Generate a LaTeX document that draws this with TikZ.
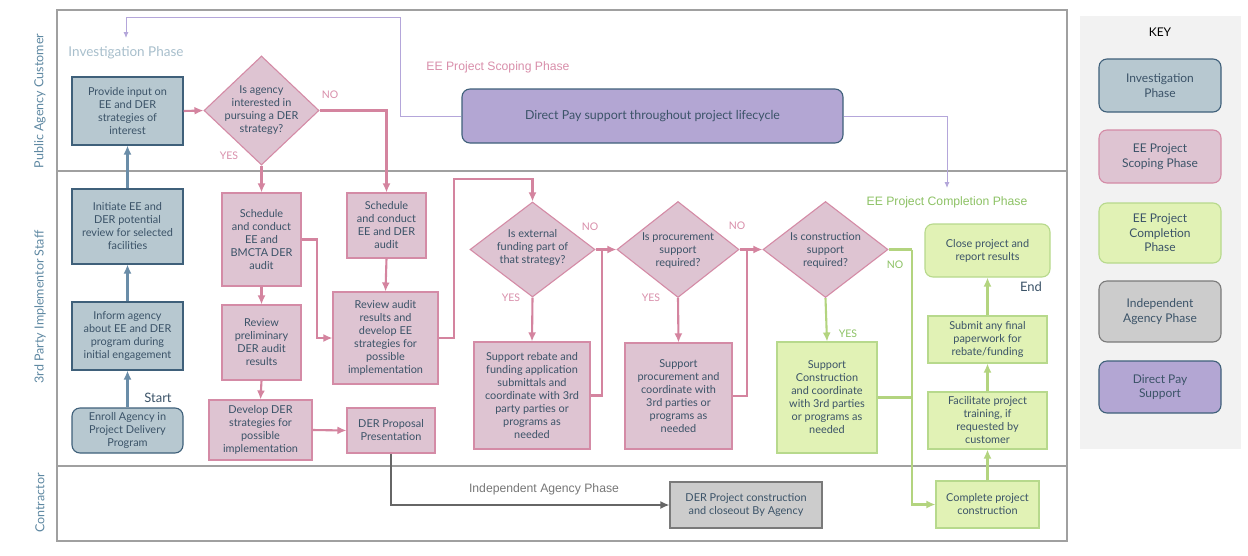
\documentclass[tikz,border=0pt]{standalone}
\usepackage{fontspec}
\setmainfont{Lato}
\newfontfamily\arialf{Liberation Sans}
\usetikzlibrary{shapes.geometric,arrows.meta,calc}
\definecolor{txt}{HTML}{3B5368}
\definecolor{invf}{HTML}{B7C8D0}
\definecolor{invd}{HTML}{3F607A}
\definecolor{scpf}{HTML}{DEC4D2}
\definecolor{scpd}{HTML}{D48BA6}
\definecolor{cmpf}{HTML}{E1F2B5}
\definecolor{cmpd}{HTML}{B7D98C}
\definecolor{indf}{HTML}{CCCCCC}
\definecolor{indd}{HTML}{7A7A7A}
\definecolor{dpf}{HTML}{B3A6D3}
\definecolor{dpd}{HTML}{3F607A}
\definecolor{pinkln}{HTML}{D4849F}
\definecolor{blueln}{HTML}{6A8DA8}
\definecolor{greenln}{HTML}{B3D47F}
\definecolor{grayln}{HTML}{666666}
\definecolor{purpln}{HTML}{B4A6DA}
\definecolor{lanec}{HTML}{5E88A2}
\definecolor{framec}{HTML}{A0A0A0}
\definecolor{keybg}{HTML}{F2F2F2}
\definecolor{invtxt}{HTML}{A8BFCC}
\definecolor{scptxt}{HTML}{D98FAB}
\definecolor{cmptxt}{HTML}{8DC265}
\definecolor{indtxt}{HTML}{777777}
\tikzset{
  box/.style={draw, line width=1.1pt, align=center, text=txt, inner sep=1pt,
    font=\fontsize{10.9}{13}\selectfont},
  inv/.style={box, fill=invf, draw=invd},
  scp/.style={box, fill=scpf, draw=scpd},
  cmp/.style={box, fill=cmpf, draw=cmpd},
  ind/.style={box, fill=indf, draw=indd},
  dps/.style={box, fill=dpf, draw=dpd, rounded corners=8pt},
  keybox/.style={box, rounded corners=8pt, minimum width=122, font=\fontsize{12}{14.6}\selectfont},
  dia/.style={diamond, draw=scpd, fill=scpf, line width=1.1pt, inner sep=0pt},
  dtext/.style={align=center, text=txt, inner sep=0pt, font=\fontsize{10.9}{13}\selectfont},
  parr/.style={draw=pinkln, line width=2.1pt, -{Latex[length=9pt,width=8pt]}},
  pln/.style={draw=pinkln, line width=2.1pt},
  barr/.style={draw=blueln, line width=2.1pt, -{Latex[length=9pt,width=8pt]}},
  garr/.style={draw=greenln, line width=2.1pt, -{Latex[length=9pt,width=8pt]}},
  gln/.style={draw=greenln, line width=2.1pt},
  karr/.style={draw=grayln, line width=2.1pt, -{Latex[length=9pt,width=8pt]}},
  uarr/.style={draw=purpln, line width=0.9pt, -{Latex[length=6pt,width=5pt]}},
  yn/.style={font=\fontsize{10.5}{12}\selectfont, inner sep=0pt},
  lanelbl/.style={rotate=90, text=lanec, font=\fontsize{12.5}{14}\selectfont},
}
\begin{document}
\begin{tikzpicture}[x=1pt,y=-1pt]
\useasboundingbox (0,0) rectangle (1248,555);
\fill[white] (0,0) rectangle (1248,555);
% key panel
\fill[keybg] (1080,16) rectangle (1241,449);
\node[font=\fontsize{12}{14}\selectfont] (keyt) at (1160,32) {KEY};
\node[keybox, fill=invf, draw=invd, minimum height=53] (k1) at (1160,85.5) {Investigation\\Phase};
\node[keybox, fill=scpf, draw=scpd, minimum height=53] (k2) at (1160,156.5) {EE Project\\Scoping Phase};
\node[keybox, fill=cmpf, draw=cmpd, minimum height=60] (k3) at (1160,233) {EE Project\\Completion\\Phase};
\node[keybox, fill=indf, draw=indd, minimum height=61] (k4) at (1160,311.5) {Independent\\Agency Phase};
\node[keybox, fill=dpf, draw=dpd, minimum height=52] (k5) at (1160,387) {Direct Pay\\Support};
% swimlanes
\draw[framec, line width=1.6pt] (57,10) rectangle (1067,541);
\draw[framec, line width=1.8pt] (57,171) -- (1067,171);
\draw[framec, line width=1.8pt] (57,466) -- (1067,466);
\node[lanelbl] (l1) at (40,101) {Public Agency Customer};
\node[lanelbl] (l2) at (40,307) {3rd Party Implementor Staff};
\node[lanelbl] (l3) at (40,503) {Contractor};
% phase labels
\node[text=invtxt, font=\fontsize{13.5}{15}\selectfont] (ph1) at (126,53) {Investigation Phase};
\node[text=scptxt, font=\arialf\fontsize{12.2}{14}\selectfont] (ph2) at (498,67) {EE Project Scoping Phase};
\node[text=cmptxt, font=\arialf\fontsize{12.2}{14}\selectfont] (ph3) at (947,202) {EE Project Completion Phase};
\node[text=indtxt, font=\arialf\fontsize{12.2}{14}\selectfont] (ph4) at (544,489) {Independent Agency Phase};
% investigation nodes
\node[inv, minimum width=111, minimum height=68] (provide) at (127.5,111) {Provide input on\\EE and DER\\strategies of\\interest};
\node[inv, minimum width=111, minimum height=75] (initiate) at (127.5,226.5) {Initiate EE and\\DER potential\\review for selected\\facilities};
\node[inv, minimum width=111, minimum height=68] (inform) at (127.5,336) {Inform agency\\about EE and DER\\program during\\initial engagement};
\node[inv, rounded corners=8pt, minimum width=111, minimum height=45] (enroll) at (127.5,430.5) {Enroll Agency in\\Project Delivery\\Program};
\node[text=txt, font=\fontsize{13}{15}\selectfont] (start) at (158,398) {Start};
% direct pay
\node[dps, minimum width=381, minimum height=54, font=\fontsize{12.4}{14}\selectfont] (dp) at (652.5,116) {Direct Pay support throughout project lifecycle};
% diamond 1
\node[dia, minimum width=115, minimum height=109] (d1) at (261.5,110.5) {};
\node[dtext] (d1t) at (261.5,110.5) {Is agency\\interested in\\pursuing a DER\\strategy?};
% scoping nodes
\node[scp, minimum width=79, minimum height=93] (sched1) at (261.5,239.5) {Schedule\\and conduct\\EE and\\BMCTA DER\\audit};
\node[scp, minimum width=79, minimum height=75] (review1) at (261.5,342.5) {Review\\preliminary\\DER audit\\results};
\node[scp, minimum width=103, minimum height=60] (develop) at (260.5,430) {Develop DER\\strategies for\\possible\\implementation};
\node[scp, minimum width=79, minimum height=65] (sched2) at (386.5,225.5) {Schedule\\and conduct\\EE and DER\\audit};
\node[scp, minimum width=105, minimum height=92] (review2) at (385.5,338) {Review audit\\results and\\develop EE\\strategies for\\possible\\implementation};
\node[scp, minimum width=88, minimum height=45] (proposal) at (391,430.5) {DER Proposal\\Presentation};
\node[dia, minimum width=125, minimum height=95] (d2) at (532.5,249.5) {};
\node[dtext] (d2t) at (532.5,247.5) {Is external\\funding part of\\that strategy?};
\node[scp, minimum width=116, minimum height=107] (s1) at (532,395.5) {Support rebate and\\funding application\\submittals and\\coordinate with 3rd\\party parties or\\programs as\\needed};
\node[dia, minimum width=122, minimum height=96] (d3) at (678,249.5) {};
\node[dtext] (d3t) at (678,250.5) {Is procurement\\support\\required?};
\node[scp, minimum width=107, minimum height=106] (s2) at (678.5,396) {Support\\procurement and\\coordinate with\\3rd parties or\\programs as\\needed};
\node[dia, minimum width=125, minimum height=96] (d4) at (825.5,249.5) {};
\node[dtext] (d4t) at (825.5,250.5) {Is construction\\support\\required?};
% completion nodes
\node[cmp, minimum width=100, minimum height=111] (s3) at (827,397.5) {Support\\Construction\\and coordinate\\with 3rd parties\\or programs as\\needed};
\node[cmp, rounded corners=8pt, minimum width=125, minimum height=53] (close) at (987.5,250.5) {Close project and\\report results};
\node[text=txt, font=\fontsize{13}{15}\selectfont] (endl) at (1031,287) {End};
\node[cmp, minimum width=119, minimum height=47] (submit) at (987.5,339.5) {Submit any final\\paperwork for\\rebate/funding};
\node[cmp, minimum width=119, minimum height=57] (facil) at (987.5,420.5) {Facilitate project\\training, if\\requested by\\customer};
\node[cmp, minimum width=103, minimum height=47] (complete) at (987.5,504.5) {Complete project\\construction};
\node[ind, minimum width=152, minimum height=46] (derproj) at (746,505) {DER Project construction\\and closeout By Agency};
% coordinates
\coordinate (c1) at (454,179);
\coordinate (j1) at (602,249.5);
\coordinate (j2) at (747,249.5);
\coordinate (j3) at (912,249.5);
\coordinate (cp) at (947,188);
\coordinate (p1) at (400,17);
\coordinate (p2) at (126,38);
% blue connectors
\draw[barr] (enroll.north) -- (inform.south);
\draw[barr] (inform.north) -- (initiate.south);
\draw[barr] (initiate.north) -- (provide.south);
% pink connectors
\draw[parr] (provide.east) -- (d1.west);
\draw[parr] (d1.south) -- (sched1.north);
\draw[parr] (d1.east) -| (sched2.north);
\draw[parr] (sched1.south) -- (review1.north);
\draw[parr] (review1.south) -- (develop.north);
\draw[parr] (sched1.east) -- ++(15,0) |- (review2.west);
\draw[parr] (develop.east) -- (proposal.west);
\draw[parr] (sched2.south) -- (review2.north);
\draw[parr] (review2.east) -| (c1) -| (d2.north);
\draw[parr] (d2.south) -- (s1.north);
\draw[parr] (d2.east) -- (d3.west);
\draw[pln] (s1.east) -| (j1);
\draw[parr] (d3.south) -- (s2.north);
\draw[parr] (d3.east) -- (d4.west);
\draw[pln] (s2.east) -| (j2);
% green connectors
\draw[garr] (d4.south) -- (s3.north);
\draw[gln] (d4.east) -- (j3);
\draw[garr] (j3) |- (complete.west);
\draw[gln] (s3.east) -- (s3.east -| j3);
\draw[garr] (complete.north) -- (facil.south);
\draw[garr] (facil.north) -- (submit.south);
\draw[garr] (submit.north) -- (close.south);
% gray connector
\draw[karr] (proposal.south) |- (derproj.west);
% purple connectors
\draw[uarr] (dp.east) -| (cp);
\draw[uarr] (dp.west) -| (p1) -| (p2);
% yes/no labels
\node[yn, text=scptxt] (no1) at (330,95) {NO};
\node[yn, text=scptxt] (yes1) at (229,156) {YES};
\node[yn, text=scptxt] (no2) at (590,227) {NO};
\node[yn, text=scptxt] (yes2) at (511,298) {YES};
\node[yn, text=scptxt] (no3) at (737,226) {NO};
\node[yn, text=scptxt] (yes3) at (651,298) {YES};
\node[yn, text=cmptxt] (yes4) at (848,334) {YES};
\node[yn, text=cmptxt] (no4) at (895,265) {NO};
\end{tikzpicture}
\end{document}
